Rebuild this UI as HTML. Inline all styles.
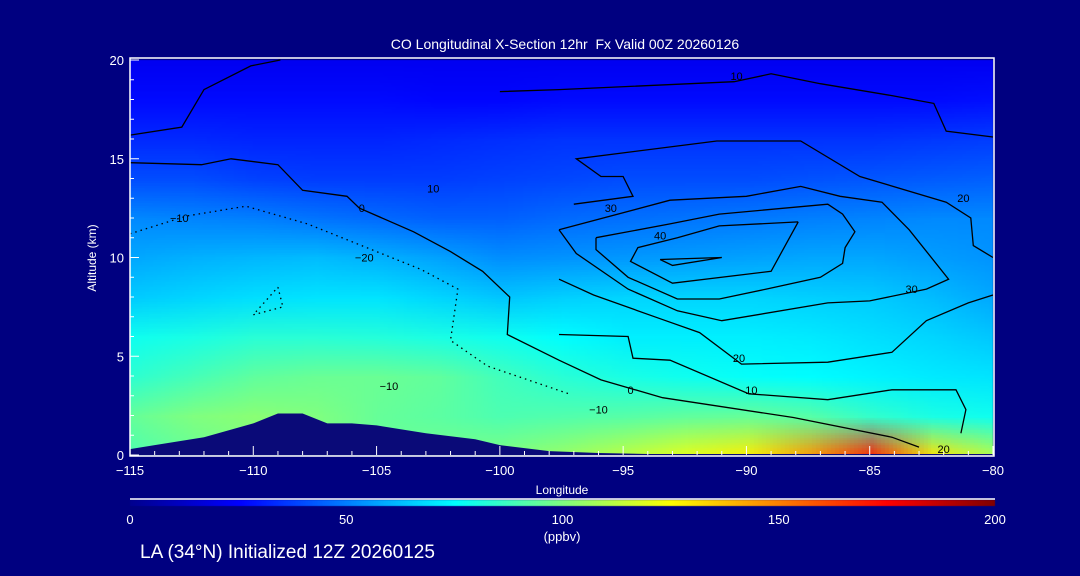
<!DOCTYPE html>
<html><head><meta charset="utf-8">
<style>
html,body{margin:0;padding:0;background:#000080;}
#wrap{position:relative;width:1080px;height:576px;background:#000080;overflow:hidden;font-family:"Liberation Sans",sans-serif;color:#fff;}
.t{position:absolute;white-space:nowrap;color:#fff;}
canvas{position:absolute;left:0;top:0;}
svg{position:absolute;left:0;top:0;}
</style></head>
<body>
<div id="wrap">
<canvas id="heat" width="1080" height="576"></canvas>
<svg id="ov" width="1080" height="576"></svg>
<div class="t" style="left:0;width:1130px;text-align:center;top:36px;font-size:14px;">CO Longitudinal X-Section 12hr&nbsp; Fx Valid 00Z 20260126</div>
<div class="t" style="left:92px;top:258px;font-size:12px;transform:translate(-50%,-50%) rotate(-90deg);">Altitude (km)</div>
<div class="t" style="left:562px;top:483px;font-size:12px;transform:translateX(-50%);">Longitude</div>
<div class="t" style="left:562px;top:529px;font-size:13px;transform:translateX(-50%);">(ppbv)</div>
<div class="t" style="left:140px;top:542px;font-size:19px;">LA (34°N) Initialized 12Z 20260125</div>
</div>
<script>
// ---- data ----
const lons = [-115,-112.5,-110,-107.5,-105,-102.5,-100,-97.5,-95,-92.5,-90,-87.5,-85,-82.5,-80];
const alts = [20,18,16,14,12,10,8,6,4,2,0];
const coRow20 = [22,22,22,22,22,22,22,22,22,22,22,22,22,22,22];
const coRow18 = [27,27,27,27,27,26,26,27,27,27,27,27,27,27,28];
const coRow16 = [33,33,32,32,32,33,34,35,35,35,35,35,35,36,37];
const coRow14 = [40,40,38,37,37,37,38,39,40,40,40,41,42,43,44];
const coRow12 = [52,51,50,48,46,44,44,46,47,48,49,50,51,52,52];
const coRow10 = [58,60,61,62,60,57,53,54,55,56,57,58,58,56,54];
const coRow8  = [65,67,69,70,70,67,64,66,67,67,67,66,65,62,58];
const coRow6  = [78,80,83,83,82,80,78,75,72,72,72,71,69,67,64];
const coRow4  = [84,89,94,96,96,94,88,83,80,78,76,75,73,71,70];
const coRow2  = [95,100,102,100,95,93,90,91,92,94,95,92,85,80,78];
const coRow0  = [90,95,100,100,95,98,100,105,112,120,128,145,168,130,110];
const coGrid = [coRow20,coRow18,coRow16,coRow14,coRow12,coRow10,coRow8,coRow6,coRow4,coRow2,coRow0];
const terrainLon = [-115,-114,-112,-110,-109,-108,-107,-106,-105,-103,-101,-100,-98,-96,-94,-80];
const terrainAlt = [0.3,0.5,0.9,1.6,2.1,2.1,1.6,1.6,1.5,1.1,0.8,0.5,0.2,0.1,0.05,0.05];
const xTicks = [-115,-110,-105,-100,-95,-90,-85,-80];
const yTicks = [0,5,10,15,20];
const cbTicks = [0,50,100,150,200];
// solid contour lines: [lon, alt] pairs
const cInner = [[-93.5,9.9],[-91,10.0],[-93,9.6],[-93.5,9.9]];
const c40 = [[-87.9,11.8],[-89,9.3],[-93,8.7],[-94.7,9.8],[-94.4,10.5],[-92.8,11.0],[-91.1,11.6],[-87.9,11.8]];
const c30a = [[-96.1,11.0],[-93.1,11.7],[-91.1,12.2],[-86.7,12.7],[-86.1,12.2],[-85.6,11.3],[-86,10.5],[-86.1,9.7],[-87,9.0],[-89.2,8.4],[-91.1,7.9],[-92.8,7.9],[-94.8,9.0],[-96.1,10.4],[-96.1,11.0]];
const c30b = [[-97.6,11.4],[-93.1,12.9],[-90,13.1],[-87.8,13.6],[-86.2,13.1],[-84.5,12.8],[-83.4,11.4],[-81.8,8.9],[-82.7,8.4],[-85,7.8],[-86.7,7.7],[-91,6.8],[-92.8,7.3],[-94.8,8.4],[-96.9,10.2],[-97.6,11.4]];
const c20 = [[-97.6,8.9],[-96.2,8.1],[-93.5,6.9],[-91.9,6.2],[-90.2,4.6],[-86.7,4.7],[-84.1,5.2],[-82.7,6.8],[-81,7.7],[-80,8.1]];
const c10 = [[-97.6,6.1],[-94.8,6.0],[-94.6,4.9],[-93.1,4.8],[-89.9,3.1],[-86.7,2.8],[-84.1,3.3],[-81.5,3.3],[-81.1,2.3],[-81.3,1.1]];
const c20top = [[-97,12.7],[-94.6,13.1],[-95,14.1],[-95.9,14.1],[-96.9,15.0],[-91.2,15.9],[-87.8,15.9],[-85.4,14.1],[-81.9,12.8],[-80.9,12.0],[-80.8,10.6],[-80,10.0]];
const c0 = [[-115,14.8],[-112.1,14.7],[-110.9,15.0],[-109,14.7],[-108,13.4],[-106.2,13.1],[-105.7,12.5],[-103.5,11.3],[-102,10.3],[-100.7,9.3],[-99.6,8.0],[-99.7,6.1],[-97.6,4.8],[-95.9,3.8],[-93.4,2.9],[-88.1,1.9],[-84.1,0.9],[-83,0.4]];
const c10top = [[-100,18.4],[-97.6,18.5],[-90.5,18.9],[-89,19.3],[-87,18.8],[-84.1,18.2],[-82.4,17.8],[-81.9,16.4],[-80,16.1]];
const c0top = [[-115,16.2],[-112.9,16.6],[-112,18.5],[-110.1,19.7],[-108.9,20]];
const contours = [cInner,c40,c30a,c30b,c20,c10,c20top,c0,c10top,c0top];
// dotted (negative) contours
const dNeg20 = [[-109,8.5],[-108.8,7.5],[-110,7.1],[-109,8.5]];
const dNeg10 = [[-115,11.2],[-112.7,12.1],[-110.3,12.6],[-107.8,11.7],[-103.2,9.4],[-101.7,8.4],[-102,5.8],[-100.5,4.5],[-97.2,3.1]];
const dashed = [dNeg20,dNeg10];

// ---- axes ----
const X0=130,X1=993,Y0=455,Y1=60;
const xs = lon => X0 + (lon+115)/35*(X1-X0);
const ys = a => Y0 - a/20*(Y0-Y1);
const CB0=130,CB1=995,CBY=500;
const cbx = v => CB0 + v/200*(CB1-CB0);

function jet(v){
  let t=Math.max(0,Math.min(1,v/200));
  const st=[[0,0,0,143],[0.125,0,0,255],[0.375,0,255,255],[0.625,255,255,0],[0.875,255,0,0],[1,128,0,0]];
  for(let i=0;i<st.length-1;i++){const a=st[i],b=st[i+1];if(t<=b[0]){const f=(t-a[0])/(b[0]-a[0]);return [a[1]+f*(b[1]-a[1]),a[2]+f*(b[2]-a[2]),a[3]+f*(b[3]-a[3])];}}
  return [128,0,0];
}
const cv=document.getElementById('heat'),ctx=cv.getContext('2d');
const sm=document.createElement('canvas');sm.width=lons.length;sm.height=alts.length;
const sctx=sm.getContext('2d');const img=sctx.createImageData(lons.length,alts.length);
coGrid.forEach((row,r)=>row.forEach((v,c)=>{const k=(r*lons.length+c)*4,col=jet(v);img.data[k]=col[0];img.data[k+1]=col[1];img.data[k+2]=col[2];img.data[k+3]=255;}));
sctx.putImageData(img,0,0);
ctx.imageSmoothingEnabled=true;
ctx.drawImage(sm,0.5,0.5,lons.length-1,alts.length-1,xs(lons[0]),ys(alts[0]),xs(lons[lons.length-1])-xs(lons[0]),ys(alts[alts.length-1])-ys(alts[0]));
for(let px=CB0;px<CB1;px++){const c=jet((px-CB0)/(CB1-CB0)*200);ctx.fillStyle=`rgb(${c[0]|0},${c[1]|0},${c[2]|0})`;ctx.fillRect(px,CBY,1,6);}

const NS='http://www.w3.org/2000/svg',ov=document.getElementById('ov');
function mk(tag,attrs){const e=document.createElementNS(NS,tag);for(const k in attrs)e.setAttribute(k,attrs[k]);ov.appendChild(e);return e;}
contours.forEach(pts=>{
  const p=mk('polyline',{points:pts.map(q=>xs(q[0]).toFixed(1)+','+ys(q[1]).toFixed(1)).join(' '),fill:'none',stroke:'#000','stroke-width':1.3});
  
  
});
dashed.forEach(pts=>{
  const p=mk('polyline',{points:pts.map(q=>xs(q[0]).toFixed(1)+','+ys(q[1]).toFixed(1)).join(' '),fill:'none',stroke:'#000','stroke-width':1.3,'stroke-dasharray':'1.5,4'});
  
  
});
{
  let d='M'+xs(terrainLon[0])+','+Y0;
  terrainLon.forEach((l,i)=>{d+=' L'+xs(l).toFixed(1)+','+ys(terrainAlt[i]).toFixed(1);});
  d+=' L'+xs(terrainLon[terrainLon.length-1])+','+Y0+' Z';
  const t=mk('path',{d:d,fill:'#0a0a78'});
  
  
}
{
  const f=mk('rect',{x:X0,y:Y1-2,width:X1-X0+1,height:Y0-Y1+3,fill:'none',stroke:'#fff','stroke-width':1.5});
  
  
  const cl=mk('line',{x1:CB0,x2:CB1,y1:CBY-1,y2:CBY-1,stroke:'#fff','stroke-width':1.5});
  
  
}
for(let l=-115;l<=-80;l++){const big=l%5===0;const tk=mk('line',{x1:xs(l),x2:xs(l),y1:Y0,y2:Y0-(big?9:4),stroke:'#fff','stroke-width':1});
  
  }
for(let a=0;a<=20;a++){const big=a%5===0;const tk=mk('line',{x1:X0,x2:X0+(big?9:4),y1:ys(a),y2:ys(a),stroke:'#fff','stroke-width':1});
  
  }
function label(txt,x,y,anchor,size,name){const e=mk('text',{x:x,y:y,'text-anchor':anchor,fill:'#fff','font-size':size,'font-family':'Liberation Sans, sans-serif'});e.textContent=txt;
  
  }
xTicks.forEach(v=>label(v===0?'0':'\u2212'+Math.abs(v),xs(v),475,'middle',13,'x-tick-label'));
yTicks.forEach(v=>label(String(v),124,ys(v)+5,'end',13,'y-tick-label'));
cbTicks.forEach(v=>label(String(v),cbx(v),524,'middle',13,'colorbar-tick-label'));
[['40',-93.5,10.9],['30',-95.5,12.3],['30',-83.3,8.2],['20',-90.3,4.7],['20',-81.2,12.8],['10',-89.8,3.1],['0',-94.7,3.1],['10',-90.4,19.0],['0',-105.6,12.3],['10',-102.7,13.3],['\u221220',-105.5,9.8],['\u221210',-113,11.8],['\u221210',-104.5,3.3],['\u221210',-96,2.1],['20',-82,0.1]].forEach(c=>{
  const e=mk('text',{x:xs(c[1]),y:ys(c[2]),'text-anchor':'middle',fill:'#000','font-size':11,'font-family':'Liberation Sans, sans-serif'});e.textContent=c[0];
  
  
});
</script>
</body></html>
